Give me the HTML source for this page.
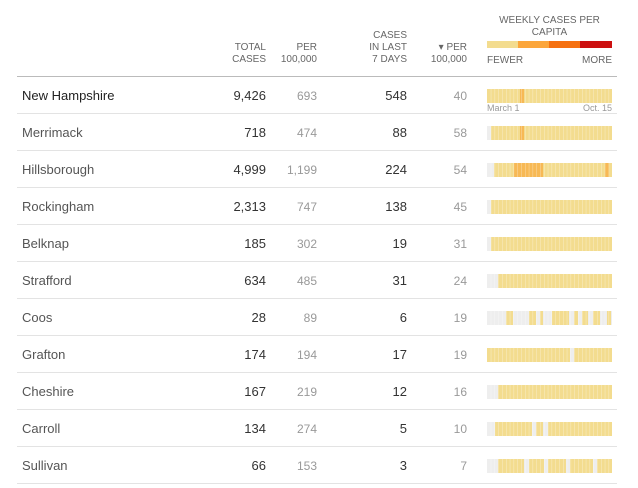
<!DOCTYPE html>
<html><head><meta charset="utf-8"><style>
body{margin:0;width:638px;height:488px;background:#fff;font-family:"Liberation Sans",sans-serif;position:relative;overflow:hidden}
.t{position:absolute;white-space:nowrap}
.h{font-size:10px;color:#666;line-height:12px;text-align:right}
</style></head><body>
<div class="t h" style="right:372px;top:42px">TOTAL<br>CASES</div>
<div class="t h" style="right:321px;top:42px">PER<br>100,000</div>
<div class="t h" style="right:231px;top:30px">CASES<br>IN LAST<br>7 DAYS</div>
<div class="t h" style="right:171px;top:42px">▾ PER<br>100,000</div>
<div class="t" style="left:487px;top:15px;width:125px;text-align:center;font-size:10px;color:#666;line-height:12px">WEEKLY CASES PER<br>CAPITA</div>
<div class="t" style="left:487px;top:55px;font-size:10px;color:#666">FEWER</div>
<div class="t" style="right:26px;top:55px;font-size:10px;color:#666">MORE</div>
<div class="t" style="left:487px;top:103px;font-size:9px;color:#999">March 1</div>
<div class="t" style="right:26px;top:103px;font-size:9px;color:#999">Oct. 15</div>
<svg width="638" height="488" style="position:absolute;left:0;top:0" id="s">
<rect x="487" y="41" width="31" height="7" fill="#f3dc8f"/>
<rect x="518" y="41" width="31" height="7" fill="#fca63b"/>
<rect x="549" y="41" width="31" height="7" fill="#f6700f"/>
<rect x="580" y="41" width="32" height="7" fill="#cc1010"/>
<rect x="17" y="76" width="600" height="1" fill="#bbb"/>
</svg>
<div id="rows"></div>
<script>
var data=[
["New Hampshire","9,426","693","548","40",[[487,612,'y'],[520,524,'o']]],
["Merrimack","718","474","88","58",[[491,612,'y'],[520,524,'o']]],
["Hillsborough","4,999","1,199","224","54",[[494,612,'y'],[514,543,'o'],[605,609,'o']]],
["Rockingham","2,313","747","138","45",[[491,612,'y']]],
["Belknap","185","302","19","31",[[491,612,'y']]],
["Strafford","634","485","31","24",[[498,612,'y']]],
["Coos","28","89","6","19",[[506,513,'y'],[529,536,'y'],[540,543,'y'],[552,569,'y'],[574,578,'y'],[582,588,'y'],[593,600,'y'],[607,611,'y']]],
["Grafton","174","194","17","19",[[487,570,'y'],[574,612,'y']]],
["Cheshire","167","219","12","16",[[498,612,'y']]],
["Carroll","134","274","5","10",[[495,532,'y'],[536,543,'y'],[548,612,'y']]],
["Sullivan","66","153","3","7",[[498,524,'y'],[529,544,'y'],[548,566,'y'],[570,593,'y'],[597,612,'y']]]];
var s=document.getElementById('s'),h='',r='';
var col={y:'#f3dc8f',o:'#f7b955'};
data.forEach(function(d,i){
 var c=96+37*i, t=(c-8)+'px;line-height:16px;';
 var nc=i==0?'#222':'#555';
 r+='<div class="t" style="left:22px;top:'+t+'font-size:13px;color:'+nc+'">'+d[0]+'</div>';
 r+='<div class="t" style="right:372px;top:'+t+'font-size:13px;color:#333">'+d[1]+'</div>';
 r+='<div class="t" style="right:321px;top:'+t+'font-size:12px;color:#999">'+d[2]+'</div>';
 r+='<div class="t" style="right:231px;top:'+t+'font-size:13px;color:#333">'+d[3]+'</div>';
 r+='<div class="t" style="right:171px;top:'+t+'font-size:12px;color:#999">'+d[4]+'</div>';
 var y=c-7;
 if(i>0) h+='<rect x="487" y="'+y+'" width="125" height="14" fill="#eee"/>';
 d[5].forEach(function(b){h+='<rect x="'+b[0]+'" y="'+y+'" width="'+(b[1]-b[0])+'" height="14" fill="'+col[b[2]]+'"/>';});
 for(var x=487+3.8;x<612;x+=3.8) h+='<rect x="'+x.toFixed(1)+'" y="'+y+'" width="0.5" height="14" fill="#fff" opacity="0.5"/>';
 h+='<rect x="17" y="'+(113+37*i)+'" width="600" height="1" fill="#e3e3e3"/>';
});
s.innerHTML+=h;document.getElementById('rows').innerHTML=r;
</script>
</body></html>
